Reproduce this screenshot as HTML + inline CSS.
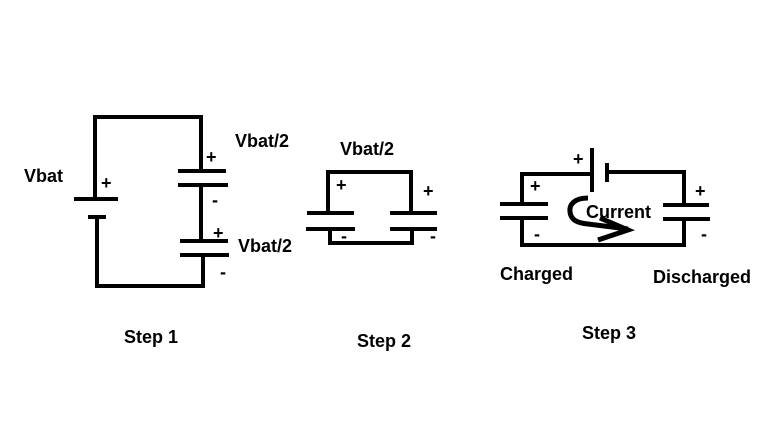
<!DOCTYPE html>
<html><head><style>
body{margin:0;background:#fff}
svg text{font-family:"Liberation Sans",Arial,sans-serif;font-weight:bold;fill:#000}
</style></head><body>
<svg width="779" height="432" viewBox="0 0 779 432" xmlns="http://www.w3.org/2000/svg">
<rect width="779" height="432" fill="#fff"/>
<g stroke="#000" stroke-width="4" fill="none" stroke-linecap="butt">
<!-- Step 1 -->
<polyline points="95,199 95,117 201,117 201,171"/>
<line x1="74" y1="199" x2="118" y2="199"/>
<line x1="88" y1="217" x2="106" y2="217"/>
<polyline points="97,217 97,286 203,286 203,255"/>
<line x1="178" y1="171" x2="226" y2="171"/>
<line x1="178" y1="185" x2="228" y2="185"/>
<line x1="201" y1="185" x2="201" y2="241"/>
<line x1="180" y1="241" x2="228" y2="241"/>
<line x1="180" y1="255" x2="229" y2="255"/>
<!-- Step 2 -->
<polyline points="328,213 328,172 411,172 411,213"/>
<line x1="307" y1="213" x2="354" y2="213"/>
<line x1="306" y1="229" x2="355" y2="229"/>
<line x1="390" y1="213" x2="437" y2="213"/>
<line x1="390" y1="229" x2="437" y2="229"/>
<polyline points="330,229 330,243 412,243 412,229"/>
<!-- Step 3 -->
<polyline points="522,204 522,174 592,174"/>
<line x1="592" y1="148" x2="592" y2="192"/>
<line x1="607" y1="163" x2="607" y2="182"/>
<polyline points="607,172 684,172 684,205"/>
<line x1="500" y1="204" x2="548" y2="204"/>
<line x1="500" y1="218" x2="548" y2="218"/>
<line x1="663" y1="205" x2="709" y2="205"/>
<line x1="663" y1="219" x2="710" y2="219"/>
<polyline points="522,218 522,245 684,245 684,219"/>
<path d="M588,198 C574,198 569,205 570,212 C571,220 577,223 588,224 L628,229" stroke-width="5"/>
<polyline points="600,218 628,230 598,240" stroke-width="5"/>
</g>
<g font-size="18">
<text x="24" y="182">Vbat</text>
<text x="101" y="189">+</text>
<text x="235" y="147">Vbat/2</text>
<text x="206" y="163">+</text>
<text x="212" y="206">-</text>
<text x="213" y="239">+</text>
<text x="238" y="252">Vbat/2</text>
<text x="220" y="278">-</text>
<text x="340" y="155">Vbat/2</text>
<text x="336" y="191">+</text>
<text x="423" y="197">+</text>
<text x="341" y="242">-</text>
<text x="430" y="242">-</text>
<text x="573" y="165">+</text>
<text x="530" y="192">+</text>
<text x="534" y="240">-</text>
<text x="695" y="197">+</text>
<text x="701" y="240">-</text>
<text x="586" y="218">Current</text>
<text x="500" y="280">Charged</text>
<text x="653" y="283">Discharged</text>
<text x="124" y="343">Step 1</text>
<text x="357" y="347">Step 2</text>
<text x="582" y="339">Step 3</text>
</g>
</svg>
</body></html>
